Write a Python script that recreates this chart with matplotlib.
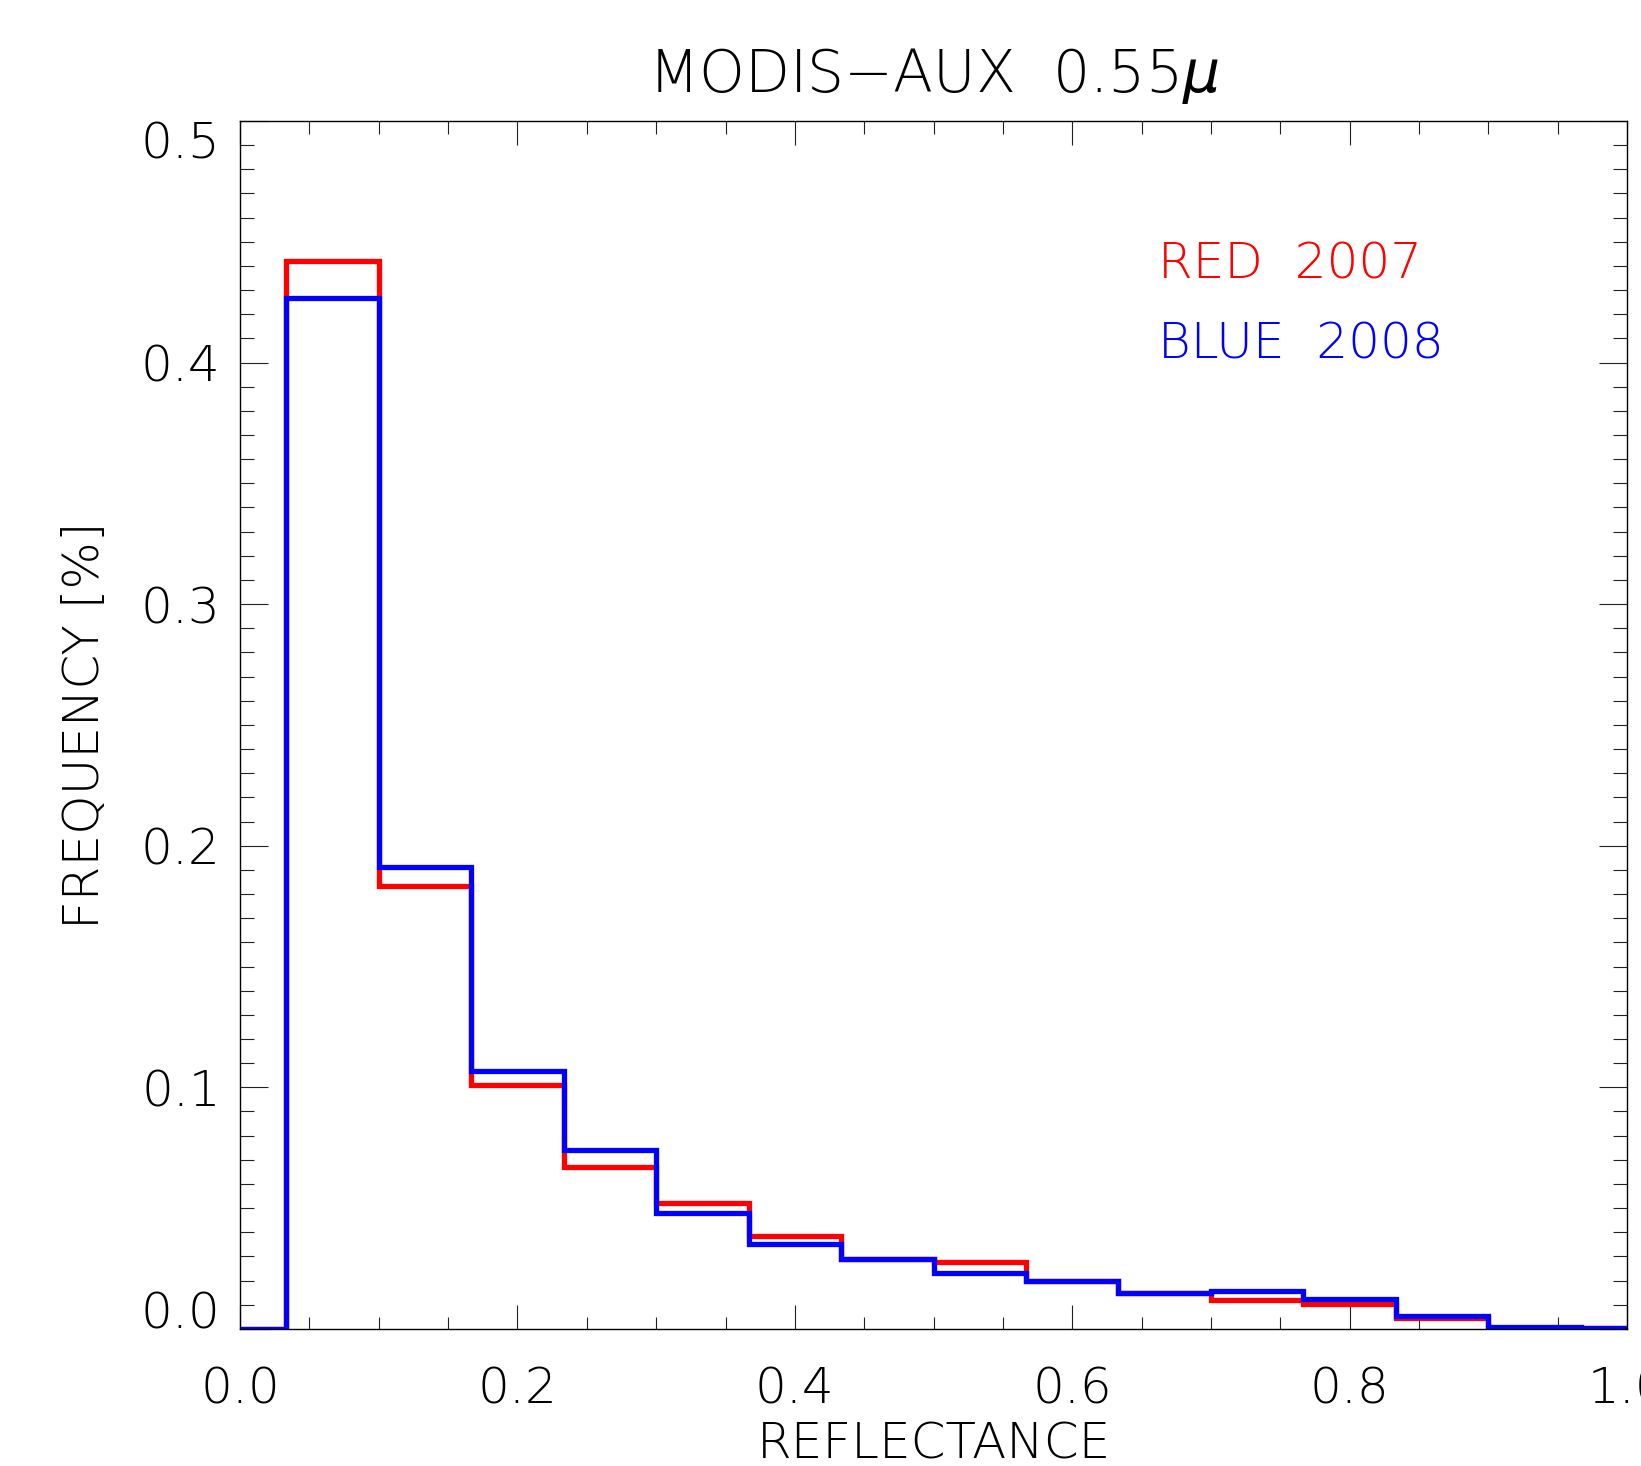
import numpy as np
import matplotlib.pyplot as plt
from matplotlib.ticker import MultipleLocator, FormatStrFormatter

# histogram bin centres (binsize 1/15) and frequencies
centers = np.arange(16) / 15.0
red_2007 = [0.0, 0.442, 0.1835, 0.101, 0.067, 0.052, 0.0385, 0.0290, 0.0275,
            0.0200, 0.0150, 0.0118, 0.0103, 0.0046, 0.0005, 0.0003]
blue_2008 = [0.0, 0.4267, 0.1913, 0.1068, 0.0742, 0.0480, 0.0350, 0.0290, 0.0233,
             0.0197, 0.0150, 0.0158, 0.0125, 0.0052, 0.0010, 0.0003]

FW = 200   # thin strokes, close to the IDL vector font
plt.rcParams['font.family'] = ['DejaVu Sans']
plt.rcParams['font.weight'] = FW
plt.rcParams['axes.titleweight'] = FW
plt.rcParams['axes.labelweight'] = FW

fig = plt.figure(figsize=(16.41, 14.66), dpi=100)
ax = fig.add_axes([0.1463, 0.0935, 0.8452, 0.8240])

#psym=10 style histogram
ax.step(centers, red_2007, where='mid', color='#ff0000', lw=3.8, solid_joinstyle='miter')
ax.step(centers, blue_2008, where='mid', color='#0000ff', lw=3.8, solid_joinstyle='miter')

ax.set_xlim(0, 1)
ax.set_ylim(0, 0.5)
ax.xaxis.set_major_locator(MultipleLocator(0.2))
ax.xaxis.set_minor_locator(MultipleLocator(0.05))
ax.yaxis.set_major_locator(MultipleLocator(0.1))
ax.yaxis.set_minor_locator(MultipleLocator(0.01))
ax.xaxis.set_major_formatter(FormatStrFormatter('%.1f'))
ax.yaxis.set_major_formatter(FormatStrFormatter('%.1f'))

ax.tick_params(which='both', direction='in', top=True, right=True, width=0.8, color='#222222')
ax.tick_params(axis='x', which='major', length=17, pad=26)
ax.tick_params(axis='x', which='minor', length=9)
ax.tick_params(axis='y', which='major', length=20, pad=14)
ax.tick_params(axis='y', which='minor', length=10)
ax.tick_params(labelsize=36)
for s in ax.spines.values():
    s.set_linewidth(1.0)

ax.set_title('MODIS\u2212AUX  0.55$\\mu$', fontsize=42, fontweight=FW, pad=21)
ax.set_xlabel('REFLECTANCE', fontsize=36, fontweight=FW)
ax.set_ylabel('FREQUENCY [%]', fontsize=36, fontweight=FW)
ax.xaxis.label.set_va('center')
ax.xaxis.set_label_coords(0.5, -0.096)
ax.yaxis.label.set_va('center')
ax.yaxis.set_label_coords(-0.112, 0.5)

ax.text(0.662, 0.4346, 'RED  2007', color='#ff0000', fontsize=36, fontweight=FW)
ax.text(0.662, 0.4015, 'BLUE  2008', color='#0000ff', fontsize=36, fontweight=FW)

# IDL shifts end labels inside the axis
fig.canvas.draw()
for t in ax.yaxis.get_major_ticks():
    txt = t.label1.get_text()
    if txt == '0.0':
        t.label1.set_va('baseline')
    elif txt == '0.5':
        t.label1.set_va('top')

plt.savefig('out.png', dpi=100)
